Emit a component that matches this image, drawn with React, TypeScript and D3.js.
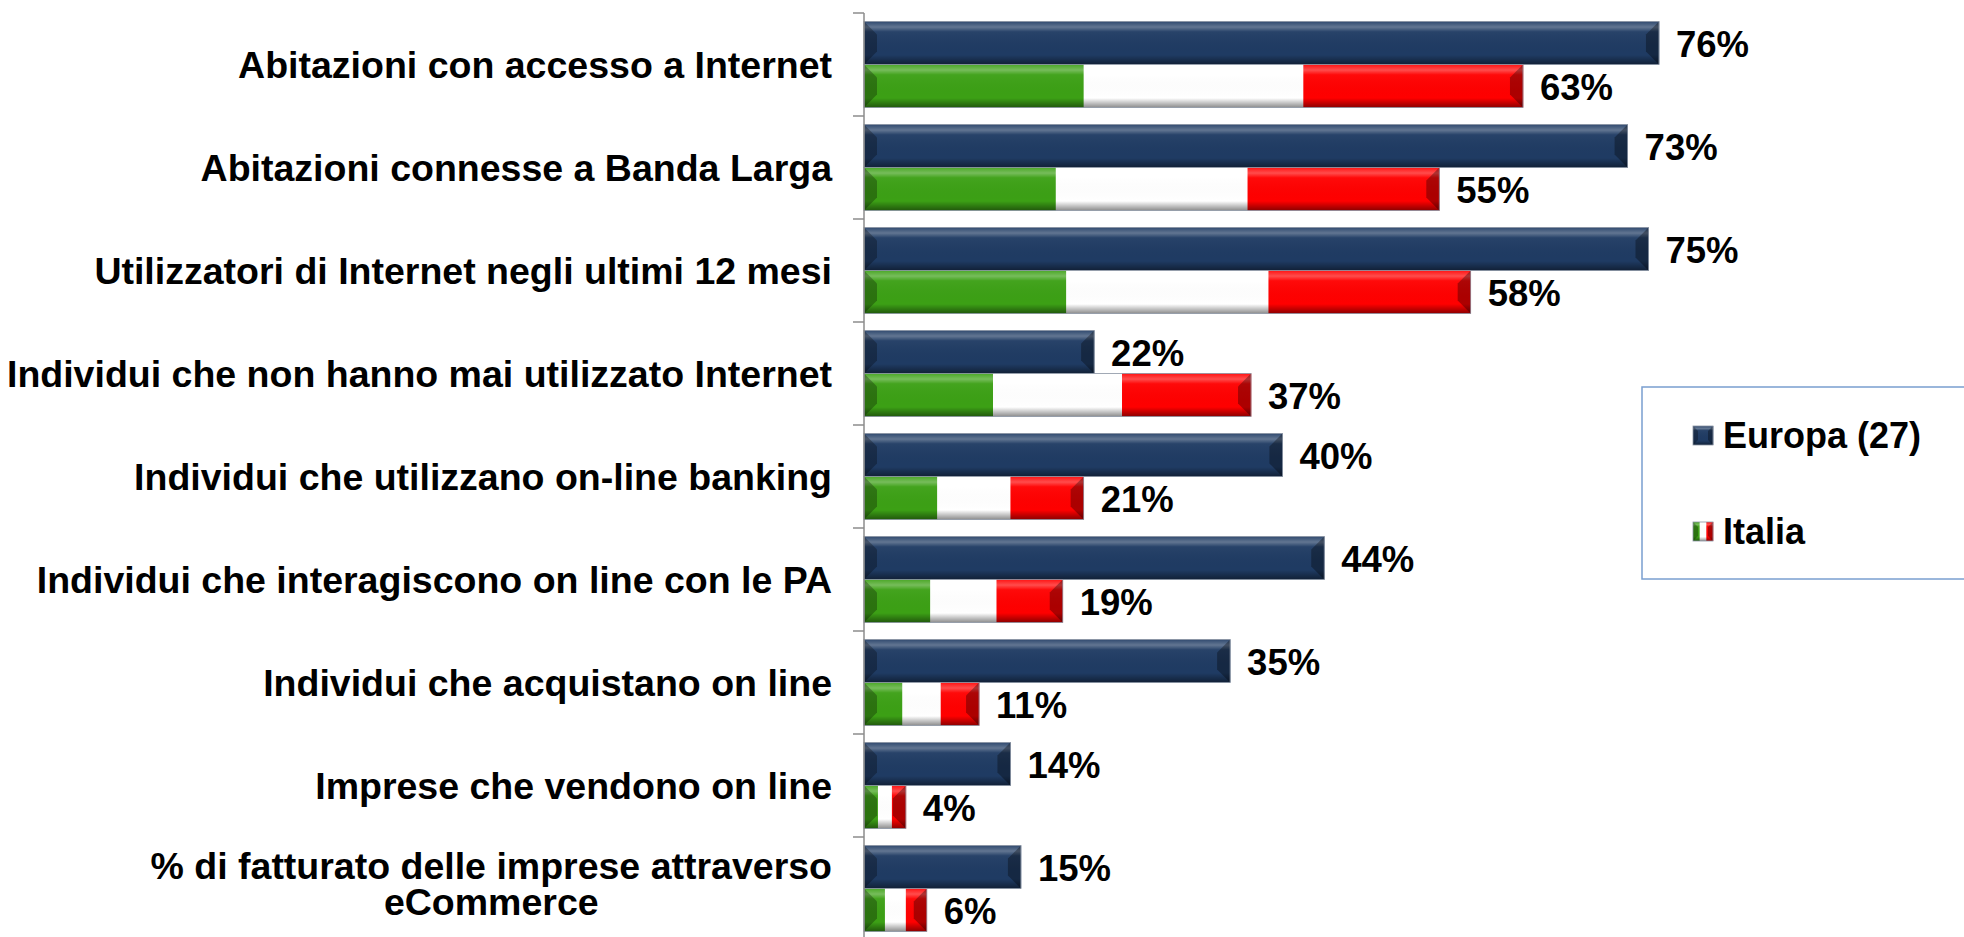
import { useRef, useEffect } from "react";
import * as d3 from "d3";

const categories = [
  "Abitazioni con accesso a Internet",
  "Abitazioni connesse a Banda Larga",
  "Utilizzatori di Internet negli ultimi 12 mesi",
  "Individui che non hanno mai utilizzato Internet",
  "Individui che utilizzano on-line banking",
  "Individui che interagiscono on line con le PA",
  "Individui che acquistano on line",
  "Imprese che vendono on line",
  "% di fatturato delle imprese attraverso|eCommerce",
];
const europa = [76, 73, 75, 22, 40, 44, 35, 14, 15];
const italia = [63, 55, 58, 37, 21, 19, 11, 4, 6];
const seriesNames = ["Europa (27)", "Italia"];

const W = 1964;
const H = 937;
const FONT = "'Liberation Sans', Arial, Helvetica, sans-serif";
const NAVY = "#1f3b63";
const GREEN = "#3ca015";
const RED = "#ff0000";

export default function App() {
  const svgRef = useRef<SVGSVGElement>(null);

  useEffect(() => {
    if (!svgRef.current) return;
    const svg = d3.select(svgRef.current);
    svg.selectAll("*").remove();

    const axisX = 864;
    const top = 13;
    const band = 103;

    const x = d3.scaleLinear().domain([0, 100]).range([axisX, axisX + 1046]);
    const y = d3
      .scaleBand<number>()
      .domain(d3.range(categories.length))
      .range([top, top + band * categories.length])
      .paddingInner(0.165)
      .paddingOuter(0.0825);
    const sub = d3.scaleBand<number>().domain([0, 1]).range([0, y.bandwidth()]);

    const defs = svg.append("defs");
    const shade = defs
      .append("linearGradient")
      .attr("id", "shade")
      .attr("x1", 0)
      .attr("x2", 0)
      .attr("y1", 0)
      .attr("y2", 1);
    [
      [0, "#fff", 0.08],
      [0.13, "#fff", 0.3],
      [0.24, "#fff", 0.04],
      [0.78, "#000", 0],
      [1, "#000", 0.45],
    ].forEach(([o, c, a]) =>
      shade
        .append("stop")
        .attr("offset", o as number)
        .attr("stop-color", c as string)
        .attr("stop-opacity", a as number)
    );

    // bevelled bar: fills = list of colours splitting the bar evenly
    function bar(
      parent: d3.Selection<SVGGElement, unknown, null, undefined>,
      x0: number,
      x1: number,
      y0: number,
      h: number,
      fills: string[],
      b: number
    ) {
      const w = x1 - x0;
      const g = parent.append("g");
      fills.forEach((f, i) => {
        g.append("rect")
          .attr("x", x0 + (w / fills.length) * i)
          .attr("y", y0)
          .attr("width", w / fills.length + 0.3)
          .attr("height", h)
          .attr("fill", f);
      });
      g.append("rect")
        .attr("x", x0)
        .attr("y", y0)
        .attr("width", w)
        .attr("height", h)
        .attr("fill", "url(#shade)");
      const bb = Math.min(b, w / 2);
      g.append("path")
        .attr("d", `M${x0},${y0}L${x0 + bb},${y0 + bb}L${x0 + bb},${y0 + h - bb}L${x0},${y0 + h}Z`)
        .attr("fill", "#000")
        .attr("opacity", 0.28);
      g.append("path")
        .attr("d", `M${x1},${y0}L${x1 - bb},${y0 + bb}L${x1 - bb},${y0 + h - bb}L${x1},${y0 + h}Z`)
        .attr("fill", "#000")
        .attr("opacity", 0.32);
      g.append("path")
        .attr("d", `M${x1},${y0}L${x1 - bb},${y0 + bb}L${x1 - bb * 0.4},${y0 + bb * 0.4}Z`)
        .attr("fill", "#fff")
        .attr("opacity", 0.25);
      g.append("rect")
        .attr("x", x0)
        .attr("y", y0)
        .attr("width", w)
        .attr("height", h)
        .attr("fill", "none")
        .attr("stroke", "#8a94a3")
        .attr("stroke-width", 0.8);
    }

    const plot = svg.append("g");

    categories.forEach((cat, i) => {
      const by = y(i)!;
      const pairs: [number, string[]][] = [
        [europa[i], [NAVY]],
        [italia[i], [GREEN, "#ffffff", RED]],
      ];
      pairs.forEach(([v, fills], k) => {
        const y0 = by + sub(k)!;
        const h = sub.bandwidth();
        bar(plot, x(0), x(v), y0, h, fills, 13);
        plot
          .append("text")
          .attr("x", x(v) + 17)
          .attr("y", y0 + h / 2 + 14)
          .attr("font-family", FONT)
          .attr("font-weight", "bold")
          .attr("font-size", "36.5px")
          .attr("fill", "#000")
          .text(`${v}%`);
      });

      // category label
      const cy = top + band * i + band / 2;
      const lines = cat.split("|");
      const t = svg
        .append("text")
        .attr("font-family", FONT)
        .attr("font-weight", "bold")
        .attr("font-size", "37.5px")
        .attr("fill", "#000");
      if (lines.length === 1) {
        t.attr("x", 832).attr("y", cy + 13.5).attr("text-anchor", "end").text(cat);
      } else {
        const spans = lines.map((l, j) =>
          t.append("tspan").attr("y", cy - 10 + j * 36).text(l)
        );
        const widths = spans.map((s) => (s.node() as SVGTSpanElement).getComputedTextLength());
        const cx = 832 - d3.max(widths)! / 2;
        spans.forEach((s) => s.attr("x", cx));
        t.attr("text-anchor", "middle");
      }
    });

    // category axis
    const axis = svg.append("g").attr("stroke", "#8c8c8c").attr("stroke-width", 1.5);
    axis
      .append("line")
      .attr("x1", axisX)
      .attr("x2", axisX)
      .attr("y1", top)
      .attr("y2", top + band * categories.length);
    d3.range(categories.length + 1).forEach((i) => {
      axis
        .append("line")
        .attr("x1", axisX - 11)
        .attr("x2", axisX)
        .attr("y1", top + band * i)
        .attr("y2", top + band * i);
    });

    // legend
    const lg = svg.append("g");
    lg.append("rect")
      .attr("x", 1642)
      .attr("y", 387)
      .attr("width", 340)
      .attr("height", 192)
      .attr("fill", "#fff")
      .attr("stroke", "#7a9fd0")
      .attr("stroke-width", 1.5);
    const swatches = [[NAVY], [GREEN, "#ffffff", RED]];
    seriesNames.forEach((name, k) => {
      const sy = 426 + k * 96;
      bar(lg, 1693, 1713, sy, 19, swatches[k], 5);
      lg.append("text")
        .attr("x", 1723)
        .attr("y", sy + 22)
        .attr("font-family", FONT)
        .attr("font-weight", "bold")
        .attr("font-size", "36px")
        .attr("fill", "#000")
        .text(name);
    });
  }, []);

  return (
    <div style={{ position: "absolute", left: 0, top: 0 }}>
      <svg ref={svgRef} width={W} height={H} style={{ display: "block", background: "#fff" }} />
    </div>
  );
}
